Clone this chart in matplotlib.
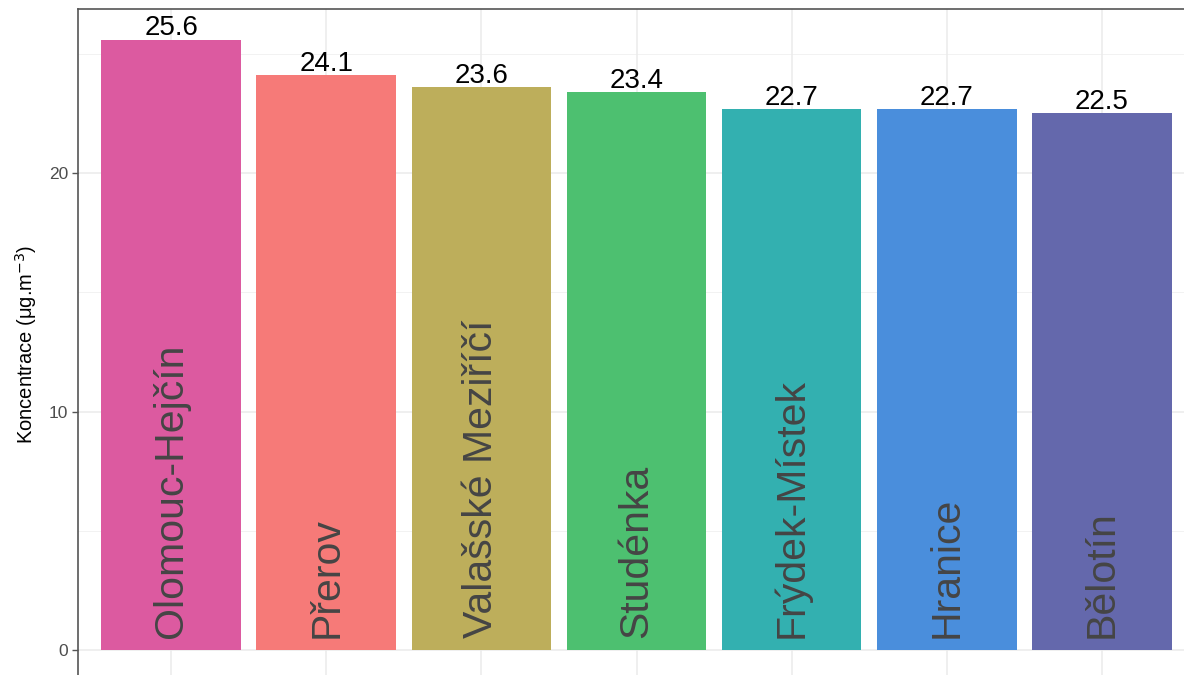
import numpy as np
import matplotlib
matplotlib.use("Agg")
import matplotlib.pyplot as plt

plt.rcParams['font.family'] = ['Liberation Sans', 'DejaVu Sans']

# data
stations = ['Olomouc-Hejčín', 'Přerov', 'Valašské Meziříčí', 'Studénka',
            'Frýdek-Místek', 'Hranice', 'Bělotín']
values = [25.6, 24.1, 23.6, 23.4, 22.7, 22.7, 22.5]
colors = ['#DC5AA0', '#F67A78', '#BDAE5B', '#4DC070', '#33B0B0', '#4A8EDC', '#6468AC']
y_ticks = [0, 10, 20]
y_minor = [5, 15, 25]

W, H = 1184, 675
fig = plt.figure(figsize=(W / 100, H / 100), dpi=100)
ax = fig.add_axes([78 / W, -5.5 / H, 1117 / W, 671.5 / H])

x = np.arange(1, len(stations) + 1)

# grid
for v in y_minor:
    ax.axhline(v, color='#F2F2F2', lw=0.7, zorder=0)
for v in y_ticks:
    ax.axhline(v, color='#EBEBEB', lw=1.1, zorder=0)
for xi in x:
    ax.axvline(xi, color='#EBEBEB', lw=1.1, zorder=0)

ax.bar(x, values, width=0.9, color=colors, zorder=2)

for xi, v, name in zip(x, values, stations):
    ax.annotate(f'{v:.1f}', (xi, v), xytext=(0, 3), textcoords='offset points',
                ha='center', va='baseline', fontsize=20, color='black', zorder=3)
    ax.text(xi, 0.5, name, rotation=90, ha='center', va='bottom',
            fontsize=29.5, color='#454545', zorder=3)

ax.set_xlim(0.4, 7.6)
ax.set_ylim(-1.28, 26.88)
ax.set_yticks(y_ticks)
ax.set_xticks(x)
ax.tick_params(axis='x', length=0, labelbottom=False)
ax.tick_params(axis='y', length=4, width=1, color='#555555', labelsize=12.5,
               labelcolor='#4D4D4D', pad=3)
ax.set_ylabel('Koncentrace (μg.m$^{-3}$)', fontsize=14.5, labelpad=7)

for side in ['top', 'left', 'right']:
    ax.spines[side].set_color('#555555')
    ax.spines[side].set_linewidth(1.2)
ax.spines['bottom'].set_visible(False)

fig.savefig('out.png', dpi=100)
